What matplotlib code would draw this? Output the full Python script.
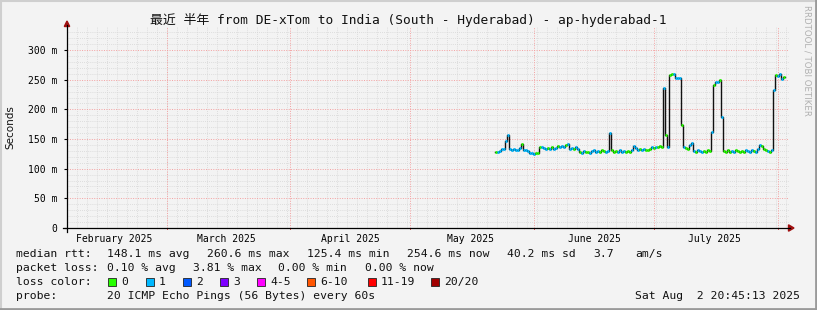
import numpy as np
import pandas as pd
import matplotlib
matplotlib.use("Agg")
import matplotlib.pyplot as plt
from matplotlib.patches import Rectangle, Polygon
from matplotlib.lines import Line2D

W, H = 817, 310

# median rtt in ms, one sample every 12 hours starting at first_sample
first_sample = "2025-05-22 06:00"
rtt = [129, 128, 130, 134, 133, 147, 157, 133, 131, 134,
       132, 131, 135, 141, 132, 131, 130, 127, 126, 125,
       127, 126, 136, 137, 135, 134, 135, 133, 136, 134,
       135, 138, 137, 139, 137, 140, 142, 134, 135, 133,
       136, 134, 129, 127, 130, 128, 129, 127, 130, 131,
       129, 130, 128, 131, 130, 129, 130, 160, 131, 129,
       130, 128, 131, 129, 130, 128, 130, 129, 131, 138,
       135, 132, 133, 131, 134, 132, 131, 133, 136, 135,
       137, 136, 138, 136, 236, 157, 137, 258, 260, 259,
       253, 253, 253, 174, 137, 135, 134, 140, 143, 130,
       129, 131, 130, 128, 130, 129, 131, 130, 162, 241,
       247, 247, 249, 188, 130, 129, 131, 128, 130, 129,
       131, 130, 128, 130, 129, 131, 130, 129, 131, 130,
       128, 134, 140, 139, 134, 131, 130, 129, 131, 232,
       258, 257, 259, 251, 254]
# packets lost per sample (index into loss colours)
loss = [0, 1, 1, 1, 1, 1, 1, 1, 1, 1,
        1, 1, 1, 0, 1, 1, 1, 1, 1, 1,
        0, 0, 0, 1, 1, 1, 0, 1, 0, 1,
        1, 0, 1, 1, 1, 0, 1, 1, 1, 0,
        1, 1, 0, 1, 1, 0, 0, 1, 1, 1,
        1, 1, 0, 0, 0, 1, 1, 1, 0, 0,
        0, 1, 1, 1, 1, 0, 0, 0, 1, 1,
        1, 1, 0, 1, 1, 0, 0, 0, 1, 0,
        1, 0, 0, 0, 1, 0, 1, 0, 0, 1,
        1, 1, 1, 0, 1, 0, 0, 1, 1, 1,
        0, 1, 1, 1, 0, 0, 0, 0, 1, 0,
        1, 1, 0, 1, 0, 0, 0, 0, 1, 1,
        0, 0, 0, 0, 0, 1, 1, 1, 1, 0,
        1, 1, 1, 0, 0, 0, 1, 0, 1, 1,
        0, 1, 1, 1, 0]

loss_names = ["0", "1", "2", "3", "4-5", "6-10", "11-19", "20/20"]
loss_colors = ["#26ff00", "#00b8ff", "#0059ff", "#7e00ff",
               "#ff00ff", "#ff5500", "#ff0000", "#a10000"]

month_starts = ["2025-03-01", "2025-04-01", "2025-05-01", "2025-06-01", "2025-07-01", "2025-08-01"]
month_mids = ["2025-02-16", "2025-03-16", "2025-04-16", "2025-05-16", "2025-06-16", "2025-07-16"]
month_labels = ["February 2025", "March 2025", "April 2025", "May 2025", "June 2025", "July 2025"]
y_ticks = [0, 50, 100, 150, 200, 250, 300]
y_labels = ["0", "50 m", "100 m", "150 m", "200 m", "250 m", "300 m"]

bg = "#f3f3f3"
mono = "DejaVu Sans Mono"


def fx(x):
    return x / W


def fy(y):
    return 1 - y / H


fig = plt.figure(figsize=(W / 100, H / 100), dpi=100, facecolor=bg)
ax = fig.add_axes([fx(67), fy(228), (789 - 67) / W, (228 - 27) / H])
ax.set_facecolor(bg)

x0 = pd.Timestamp("2025-02-04 02:00")
x1 = pd.Timestamp("2025-08-03 18:00")
ax.set_xlim(x0, x1)
ax.set_ylim(0, 339)

# grid
for v in range(10, 340, 10):
    if v % 50:
        ax.axhline(v, color="#d6d6d6", lw=0.6, ls=(0, (1, 1.5)), zorder=0)
for d in pd.date_range(x0, x1, freq="60h"):
    ax.axvline(d, color="#d6d6d6", lw=0.6, ls=(0, (1, 1.5)), zorder=0)
for v in y_ticks[1:]:
    ax.axhline(v, color="#f4a0a0", lw=0.7, ls=(0, (1, 1.5)), zorder=1)
for d in month_starts:
    ax.axvline(pd.Timestamp(d), color="#f4a0a0", lw=0.7, ls=(0, (1, 1.5)), zorder=1)

# median line, coloured by loss
t = pd.date_range(first_sample, periods=len(rtt), freq="12h")
t_end = t + pd.Timedelta(hours=12)
ax.step(np.append(t.values, t_end.values[-1]), np.append(rtt, rtt[-1]),
        where="post", color="#111111", lw=1.0, zorder=3)
ax.hlines(rtt, t.values, t_end.values, colors=[loss_colors[l] for l in loss],
          lw=2.0, zorder=4)

# axes
for s in ax.spines.values():
    s.set_visible(False)
ax.set_yticks(y_ticks)
ax.set_yticklabels(y_labels, fontfamily=mono, fontsize=7)
ax.tick_params(axis="y", length=2, width=0.8, pad=5, color="#000000")
ax.set_xticks([pd.Timestamp(d) for d in month_mids])
ax.set_xticklabels(month_labels, fontfamily=mono, fontsize=7)
ax.tick_params(axis="x", length=0, pad=4)

fig.add_artist(Line2D([fx(67), fx(67)], [fy(232), fy(25)], color="black", lw=0.9))
fig.add_artist(Line2D([fx(63), fx(790)], [fy(228), fy(228)], color="black", lw=0.9))
fig.add_artist(Polygon([(fx(64.3), fy(26.5)), (fx(69.7), fy(26.5)), (fx(67), fy(21))],
                       closed=True, color="#a01010", transform=fig.transFigure))
fig.add_artist(Polygon([(fx(788.5), fy(224.8)), (fx(788.5), fy(231.2)), (fx(794), fy(228))],
                       closed=True, color="#a01010", transform=fig.transFigure))
for d in month_starts:
    ax.plot([pd.Timestamp(d)] * 2, [-2.5, 0], color="#e05050", lw=0.7, clip_on=False)

# title and side labels
fig.text(0.5, fy(20), "最近 半年 from DE-xTom to India (South - Hyderabad) - ap-hyderabad-1",
         ha="center", va="center", fontsize=9.3,
         family=[mono, "Noto Sans CJK SC"], color="#111111")
fig.text(fx(10), fy(127), "Seconds", rotation=90, ha="center", va="center",
         fontsize=7.5, color="#111111")
fig.text(fx(807), fy(5), "RRDTOOL / TOBI OETIKER", rotation=270, ha="center", va="top",
         fontsize=6.2, color="#b0b0b0")

# legend
fs = 8.2
rows = [
    (254, [(16, "median rtt:"), (107, "148.1 ms avg"), (207, "260.6 ms max"),
           (307, "125.4 ms min"), (407, "254.6 ms now"), (507, "40.2 ms sd"),
           (593, "3.7"), (635, "am/s")]),
    (268, [(16, "packet loss:"), (107, "0.10 % avg"), (193, "3.81 % max"),
           (278, "0.00 % min"), (365, "0.00 % now")]),
    (282, [(16, "loss color:")]),
    (296, [(16, "probe:"), (107, "20 ICMP Echo Pings (56 Bytes) every 60s")]),
]
for y, items in rows:
    for x, s in items:
        fig.text(fx(x), fy(y), s, ha="left", va="center", fontsize=fs, family=mono,
                 color="#111111")
fig.text(fx(800), fy(296), "Sat Aug  2 20:45:13 2025", ha="right", va="center",
         fontsize=fs, family=mono, color="#111111")

sw_x = [108, 146, 183, 220, 257, 307, 368, 431]
for x, name, c in zip(sw_x, loss_names, loss_colors):
    fig.add_artist(Rectangle((fx(x), fy(286)), 8 / W, 8 / H, facecolor=c,
                             edgecolor="#222222", lw=0.6, transform=fig.transFigure))
    fig.text(fx(x + 13), fy(282), name, ha="left", va="center", fontsize=fs,
             family=mono, color="#111111")

# frame
fig.add_artist(Line2D([0, 1], [fy(1), fy(1)], color="#cfcfcf", lw=1.5))
fig.add_artist(Line2D([fx(1), fx(1)], [0, 1], color="#cfcfcf", lw=1.5))
fig.add_artist(Line2D([0, 1], [fy(309), fy(309)], color="#9a9a9a", lw=2))
fig.add_artist(Line2D([fx(816), fx(816)], [0, 1], color="#9a9a9a", lw=2))

fig.savefig("out.png", dpi=100, facecolor=bg)
